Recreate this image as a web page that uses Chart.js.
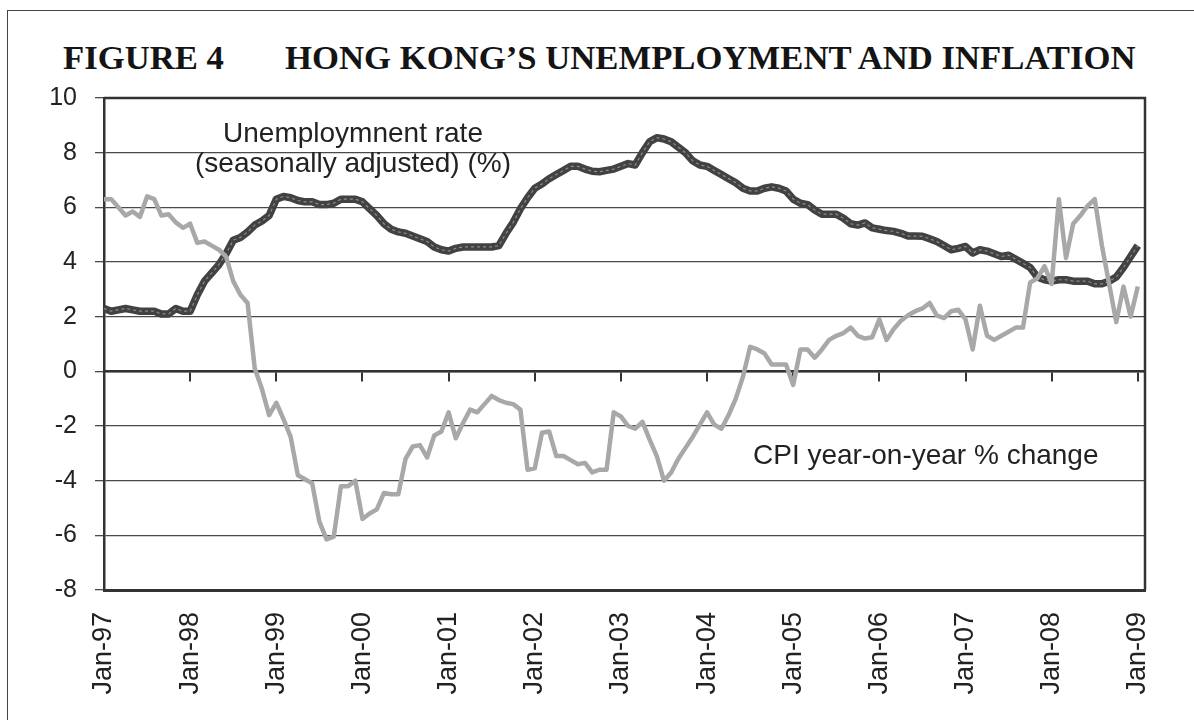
<!DOCTYPE html>
<html lang="en">
<head>
  <meta charset="UTF-8" />
  <title>Hong Kong's Unemployment and Inflation</title>
  <style>
    body, html {
      margin: 0;
      width: 1194px;
      height: 720px;
      background: #fff;
      overflow: hidden;
    }
    #frame {
      position: absolute;
      left: 7px;
      top: 10px;
      width: 1200px;
      height: 730px;
      border: 1.5px solid #444;
    }
    #wrap {
      position: absolute;
      left: 0;
      top: 0;
      width: 1194px;
      height: 720px;
    }
    .title {
      position: absolute;
      top: 41px;
      font: bold 34.7px 'Liberation Serif', 'Times New Roman', serif;
      line-height: 34px;
      color: #141414;
      white-space: nowrap;
    }
    .note {
      position: absolute;
      font: 28px 'Liberation Sans', Arial, sans-serif;
      line-height: 30px;
      color: #222;
      white-space: nowrap;
    }
  </style>
</head>
<body>

<div id="frame"></div>
<div class="title" style="left:63px">FIGURE 4</div>
<div class="title" style="left:285px">HONG KONG’S UNEMPLOYMENT AND INFLATION</div>

<div id="wrap"><canvas id="hkChart"></canvas></div>

<div class="note" style="left:353px; top:118px; transform:translateX(-50%)">Unemploymnent rate</div>
<div class="note" style="left:353px; top:148px; transform:translateX(-50%)">(seasonally adjusted) (%)</div>
<div class="note" style="left:753px; top:440px">CPI year-on-year % change</div>

<script src="https://cdn.jsdelivr.net/npm/chart.js"></script>
<script>
  // monthly, Jan-97 .. Jan-09
  const years = ['97', '98', '99', '00', '01', '02', '03', '04', '05', '06', '07', '08', '09'];
  const months = ['Jan', 'Feb', 'Mar', 'Apr', 'May', 'Jun', 'Jul', 'Aug', 'Sep', 'Oct', 'Nov', 'Dec'];

  const unemployment = [
    2.3, 2.2, 2.25, 2.3, 2.25, 2.2, 2.2, 2.2, 2.1, 2.1, 2.3, 2.2,      // 1997
    2.2, 2.8, 3.3, 3.6, 3.9, 4.3, 4.8, 4.9, 5.1, 5.35, 5.5, 5.7,       // 1998
    6.3, 6.4, 6.35, 6.25, 6.2, 6.2, 6.1, 6.1, 6.15, 6.3, 6.3, 6.3,     // 1999
    6.2, 5.95, 5.7, 5.4, 5.2, 5.1, 5.05, 4.95, 4.85, 4.75, 4.55, 4.45, // 2000
    4.4, 4.5, 4.55, 4.55, 4.55, 4.55, 4.55, 4.6, 5.05, 5.45, 5.95, 6.35, // 2001
    6.7, 6.85, 7.05, 7.2, 7.35, 7.5, 7.5, 7.4, 7.32, 7.3, 7.35, 7.4,   // 2002
    7.5, 7.6, 7.55, 8.0, 8.4, 8.55, 8.5, 8.4, 8.2, 8.0, 7.7, 7.55,     // 2003
    7.5, 7.35, 7.2, 7.05, 6.9, 6.7, 6.6, 6.6, 6.7, 6.75, 6.7, 6.6,     // 2004
    6.3, 6.15, 6.1, 5.9, 5.75, 5.75, 5.75, 5.6, 5.4, 5.35, 5.43, 5.25, // 2005
    5.2, 5.15, 5.12, 5.05, 4.95, 4.95, 4.94, 4.85, 4.75, 4.6, 4.45, 4.5, // 2006
    4.57, 4.33, 4.45, 4.4, 4.3, 4.2, 4.25, 4.1, 3.95, 3.8, 3.45, 3.35, // 2007
    3.3, 3.35, 3.35, 3.3, 3.3, 3.3, 3.2, 3.2, 3.3, 3.45, 3.8, 4.2,     // 2008
    4.6                                                               // Jan-09
  ];

  const cpiChange = [
    6.3, 6.3, 6.0, 5.7, 5.85, 5.65, 6.4, 6.3, 5.7, 5.75, 5.45, 5.25,         // 1997
    5.4, 4.7, 4.75, 4.6, 4.45, 4.2, 3.3, 2.8, 2.5, 0.1, -0.65, -1.6,         // 1998
    -1.15, -1.75, -2.4, -3.8, -3.95, -4.1, -5.5, -6.15, -6.05, -4.2, -4.2, -4.0, // 1999
    -5.4, -5.2, -5.05, -4.45, -4.5, -4.5, -3.2, -2.75, -2.7, -3.15, -2.35, -2.2, // 2000
    -1.5, -2.45, -1.9, -1.4, -1.5, -1.2, -0.9, -1.05, -1.15, -1.2, -1.4, -3.6,   // 2001
    -3.55, -2.25, -2.2, -3.1, -3.1, -3.25, -3.4, -3.35, -3.7, -3.6, -3.6, -1.5,  // 2002
    -1.65, -2.0, -2.1, -1.85, -2.5, -3.1, -4.0, -3.7, -3.2, -2.8, -2.4, -1.95,   // 2003
    -1.5, -1.95, -2.1, -1.6, -1.0, -0.2, 0.9, 0.8, 0.65, 0.25, 0.25, 0.25,       // 2004
    -0.5, 0.8, 0.8, 0.5, 0.8, 1.15, 1.3, 1.4, 1.6, 1.3, 1.2, 1.25,              // 2005
    1.9, 1.15, 1.55, 1.85, 2.05, 2.2, 2.3, 2.5, 2.05, 1.95, 2.2, 2.25,          // 2006
    1.9, 0.8, 2.4, 1.3, 1.15, 1.3, 1.45, 1.6, 1.6, 3.25, 3.4, 3.85,             // 2007
    3.2, 6.3, 4.15, 5.4, 5.7, 6.05, 6.3, 4.6, 3.2, 1.8, 3.1, 2.0,               // 2008
    3.1                                                                         // Jan-09
  ];

  // category labels run one month past the data (Feb-09) like the original axis
  const labels = [];
  years.forEach((yy, i) => {
    months.forEach((mm, j) => {
      if (i < years.length - 1 || j < 2) labels.push(mm + '-' + yy);
    });
  });

  const onlyJanuary = scale => {
    scale.ticks = scale.ticks.filter(t => t.value % 12 === 0);
  };

  // top and right edges of the plot box
  const plotFrame = {
    id: 'plotFrame',
    beforeDatasetsDraw(chart) {
      const { ctx, chartArea: a } = chart;
      ctx.save();
      ctx.strokeStyle = '#333';
      ctx.lineWidth = 2.5;
      ctx.beginPath();
      ctx.moveTo(a.left, a.top);
      ctx.lineTo(a.right, a.top);
      ctx.lineTo(a.right, a.bottom);
      ctx.stroke();
      ctx.restore();
    }
  };

  Chart.defaults.font.family = "'Liberation Sans', Arial, sans-serif";
  Chart.defaults.color = '#222';

  new Chart(document.getElementById('hkChart'), {
    type: 'line',
    data: {
      labels: labels,
      datasets: [
        {
          label: 'CPI year-on-year % change',
          data: cpiChange,
          borderColor: '#a8a8a8',
          borderWidth: 4.5,
          borderJoinStyle: 'round',
          pointRadius: 0,
          tension: 0
        },
        {
          label: 'unemployment (inner)',
          data: unemployment,
          borderColor: '#8c8c8c',
          borderWidth: 1.2,
          borderDash: [3, 3],
          pointRadius: 0,
          tension: 0
        },
        {
          label: 'Unemployment rate',
          data: unemployment,
          borderColor: '#424242',
          borderWidth: 7.5,
          borderJoinStyle: 'round',
          pointRadius: 0,
          tension: 0
        }
      ]
    },
    options: {
      responsive: true,
      maintainAspectRatio: false,
      animation: false,
      layout: { padding: { top: 98, right: 49, left: 0, bottom: 0 } },
      plugins: {
        legend: { display: false },
        tooltip: { enabled: false }
      },
      scales: {
        x: {
          type: 'category',
          position: 'bottom',
          grid: { display: false },
          border: { display: true, color: '#333', width: 3 },
          ticks: {
            autoSkip: false,
            minRotation: 90,
            maxRotation: 90,
            padding: 14,
            color: '#222',
            font: { size: 27 }
          },
          afterBuildTicks: onlyJanuary,
          afterFit: s => { s.height = 130; }
        },
        xZero: {
          type: 'category',
          position: { y: 0 },
          grid: { drawOnChartArea: false, drawTicks: true, tickLength: 9, color: '#333', lineWidth: 2 },
          border: { display: true, color: '#333', width: 2.5 },
          ticks: { display: false },
          afterBuildTicks: onlyJanuary
        },
        y: {
          min: -8,
          max: 10,
          ticks: { stepSize: 2, padding: 18, color: '#222', font: { size: 25 } },
          grid: { color: '#4a4a4a', lineWidth: 1.3, tickLength: 9 },
          border: { display: true, color: '#333', width: 2.5 },
          afterFit: s => { s.width = 104; }
        }
      }
    },
    plugins: [plotFrame]
  });
</script>

</body>
</html>
